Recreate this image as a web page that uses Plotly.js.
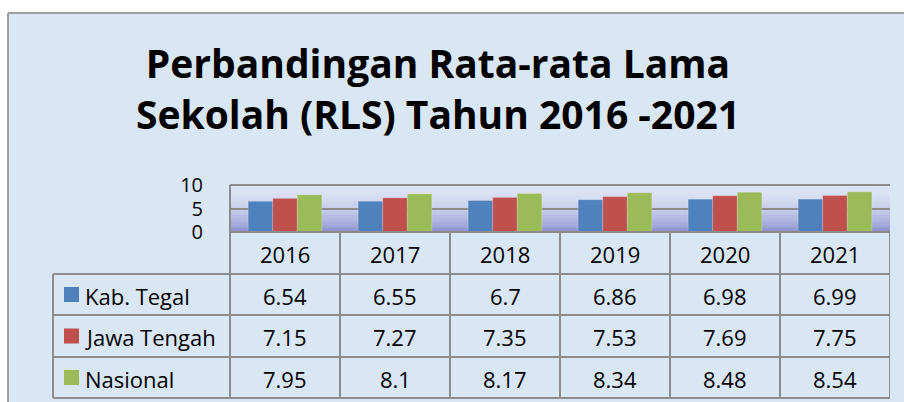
<!DOCTYPE html>
<html>
<head>
<meta charset="utf-8">
<script src="https://cdn.plot.ly/plotly-3.0.1.min.js"></script>
<style>
  html, body { margin: 0; padding: 0; background: #ffffff; }
  #chart { width: 904px; height: 402px; }
</style>
</head>
<body>
<div id="chart"></div>
<script>
// ---- data ----
const years = ["2016", "2017", "2018", "2019", "2020", "2021"];
const seriesNames = ["Kab. Tegal", "Jawa Tengah", "Nasional"];
const kabTegal = [6.54, 6.55, 6.7, 6.86, 6.98, 6.99];
const jawaTengah = [7.15, 7.27, 7.35, 7.53, 7.69, 7.75];
const nasional = [7.95, 8.1, 8.17, 8.34, 8.48, 8.54];
const seriesColors = ["#4f81bd", "#c0504d", "#9bbb59"];
const seriesValues = [kabTegal, jawaTengah, nasional];
const valueLabels = [
  ["6.54", "6.55", "6.7", "6.86", "6.98", "6.99"],
  ["7.15", "7.27", "7.35", "7.53", "7.69", "7.75"],
  ["7.95", "8.1", "8.17", "8.34", "8.48", "8.54"]
];

// ---- geometry (pixels) ----
const W = 904, H = 402;
const plotL = 230, plotR = 890, plotT = 185, plotB = 232;
const tableL = 53;
const rowLines = [274, 315, 357, 398];
const gridColor = "#8c8c8c";
const FONT = "'Open Sans', Lato, sans-serif";

const px2x = p => (p - plotL) / (plotR - plotL);
const px2y = p => (plotB - p) / (plotB - plotT);

const shapes = [];
// outer background
shapes.push({type: "rect", xref: "paper", yref: "paper", layer: "below",
  x0: px2x(8), x1: px2x(W + 2), y0: px2y(H + 2), y1: px2y(13),
  fillcolor: "#d9e6f4", line: {width: 0}});
// plot area gradient
const topC = [222, 228, 246], botC = [140, 143, 204];
const strips = 24;
for (let i = 0; i < strips; i++) {
  const t = Math.pow((i + 0.5) / strips, 1.8);
  const c = topC.map((v, k) => Math.round(v + (botC[k] - v) * t));
  const y0 = plotT + (plotB - plotT) * i / strips;
  const y1 = plotT + (plotB - plotT) * (i + 1) / strips;
  shapes.push({type: "rect", xref: "paper", yref: "paper", layer: "below",
    x0: 0, x1: 1, y0: px2y(y1 + 0.3), y1: px2y(y0),
    fillcolor: "rgb(" + c.join(",") + ")", line: {width: 0}});
}
// outer frame lines
shapes.push({type: "line", xref: "paper", yref: "paper", layer: "above",
  x0: px2x(8), x1: px2x(W + 2), y0: px2y(13), y1: px2y(13),
  line: {color: "#a0a0a0", width: 2}});
shapes.push({type: "line", xref: "paper", yref: "paper", layer: "above",
  x0: px2x(8), x1: px2x(8), y0: px2y(13), y1: px2y(H + 2),
  line: {color: "#a0a0a0", width: 2}});
// plot border top and left
shapes.push({type: "line", xref: "paper", yref: "paper", layer: "above",
  x0: 0, x1: 1, y0: 1, y1: 1, line: {color: gridColor, width: 2}});
shapes.push({type: "line", xref: "paper", yref: "paper", layer: "above",
  x0: 0, x1: 0, y0: 1, y1: px2y(rowLines[3]), line: {color: gridColor, width: 2}});
// table vertical lines at category boundaries
for (let i = 0; i <= years.length; i++) {
  shapes.push({type: "line", xref: "x", yref: "paper", layer: "above",
    x0: i - 0.5, x1: i - 0.5, y0: 0, y1: px2y(rowLines[3]),
    line: {color: gridColor, width: 2}});
}
// left column vertical line
shapes.push({type: "line", xref: "paper", yref: "paper", layer: "above",
  x0: px2x(tableL), x1: px2x(tableL), y0: px2y(rowLines[0]), y1: px2y(rowLines[3]),
  line: {color: gridColor, width: 2}});
// horizontal lines
shapes.push({type: "line", xref: "paper", yref: "paper", layer: "above",
  x0: 0, x1: 1, y0: 0, y1: 0, line: {color: gridColor, width: 2}});
rowLines.forEach(r => {
  shapes.push({type: "line", xref: "paper", yref: "paper", layer: "above",
    x0: px2x(tableL), x1: 1, y0: px2y(r), y1: px2y(r),
    line: {color: gridColor, width: 2}});
});

// column centre in paper fraction (category i spans [i-0.5, i+0.5] over [-0.5, 5.5])
const colX = i => (i + 0.5) / years.length;

const annotations = [];
seriesNames.forEach((name, s) => {
  const cy = (rowLines[s] + rowLines[s + 1]) / 2;
  shapes.push({type: "rect", xref: "paper", yref: "paper", layer: "above",
    x0: px2x(64), x1: px2x(79), y0: px2y(cy + 7.5), y1: px2y(cy - 7.5),
    fillcolor: seriesColors[s], line: {width: 0}});
  annotations.push({xref: "paper", yref: "paper", x: px2x(83), y: px2y(cy + 1),
    xanchor: "left", yanchor: "middle", showarrow: false, text: name,
    font: {family: FONT, size: 22, color: "#000"}});
  valueLabels[s].forEach((v, i) => {
    annotations.push({xref: "paper", yref: "paper", x: colX(i), y: px2y(cy + 1),
      xanchor: "center", yanchor: "middle", showarrow: false, text: v,
      font: {family: FONT, size: 22, color: "#000"}});
  });
});
years.forEach((yr, i) => {
  annotations.push({xref: "paper", yref: "paper", x: colX(i), y: px2y((plotB + rowLines[0]) / 2 + 1),
    xanchor: "center", yanchor: "middle", showarrow: false, text: yr,
    font: {family: FONT, size: 22, color: "#000"}});
});

const traces = seriesNames.map((name, s) => ({
  type: "bar", name: name, x: years, y: seriesValues[s],
  marker: {color: seriesColors[s], line: {color: "rgba(255,255,255,0.35)", width: 0.6}},
  hoverinfo: "x+y+name"
}));

const layout = {
  width: W, height: H,
  margin: {l: plotL, r: W - plotR, t: plotT, b: H - plotB, pad: 0},
  paper_bgcolor: "#ffffff",
  plot_bgcolor: "rgba(0,0,0,0)",
  showlegend: false,
  barmode: "group", bargap: 0.33, bargroupgap: 0,
  title: {
    text: "Perbandingan Rata-rata Lama<br>Sekolah (RLS) Tahun 2016 -2021",
    x: 438 / W, xanchor: "center", xref: "container",
    y: 1 - 78 / H, yanchor: "middle", yref: "container",
    font: {family: FONT, size: 39, color: "#000", weight: 700}
  },
  xaxis: {type: "category", showticklabels: false, ticks: "", showgrid: false,
    zeroline: false, showline: false, range: [-0.5, 5.5], fixedrange: true},
  yaxis: {range: [0, 10], tickvals: [0, 5, 10], ticktext: ["0", "5", "10"],
    showgrid: true, gridcolor: gridColor, gridwidth: 2, zeroline: false,
    showline: false, ticks: "", ticklabelstandoff: 26,
    tickfont: {family: FONT, size: 20, color: "#000"}, fixedrange: true},
  shapes: shapes,
  annotations: annotations
};

Plotly.newPlot("chart", traces, layout, {displayModeBar: false, staticPlot: true});
</script>
</body>
</html>
